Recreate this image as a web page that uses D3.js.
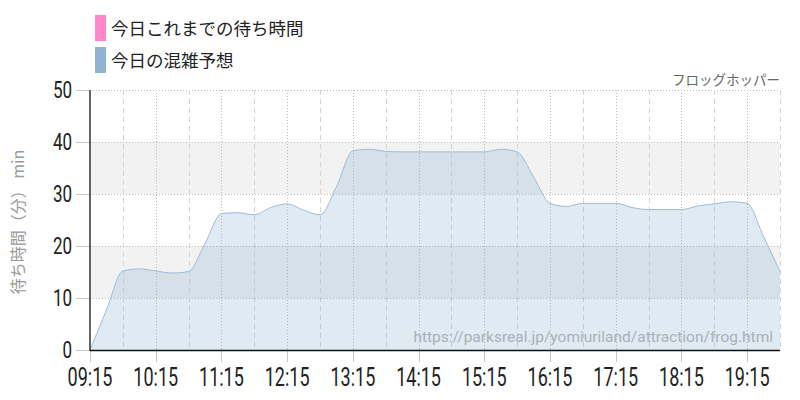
<!DOCTYPE html>
<html><head><meta charset="utf-8">
<script src="https://cdn.jsdelivr.net/npm/d3@7"></script>
<style>
html,body{margin:0;padding:0;background:#fff;}
svg{display:block;}
</style>
</head><body>
<svg id="chart" width="800" height="400"></svg>
<script>
const times = ["09:15","09:30","09:45","10:00","10:15","10:30","10:45","11:00","11:15","11:30","11:45","12:00","12:15","12:30","12:45","13:00","13:15","13:30","13:45","14:00","14:15","14:30","14:45","15:00","15:15","15:30","15:45","16:00","16:15","16:30","16:45","17:00","17:15","17:30","17:45","18:00","18:15","18:30","18:45","19:00","19:15","19:30","19:45"];
const forecast = [0,7.7,15.2,15.6,15.2,14.8,15.1,20.5,26.2,26.4,26.0,27.4,28.1,26.9,26.0,31.4,38.3,38.6,38.2,38.1,38.1,38.1,38.1,38.1,38.1,38.6,38.1,33.3,28.2,27.6,28.2,28.2,28.2,27.4,27.0,27.0,27.0,27.7,28.1,28.5,28.2,21.8,15.1];
const xTickLabels = ["09:15","10:15","11:15","12:15","13:15","14:15","15:15","16:15","17:15","18:15","19:15"];
const halfHourLines = ["09:45","10:45","11:45","12:45","13:45","14:45","15:45","16:45","17:45","18:45","19:45"];
const yTicks = [0,10,20,30,40,50];
const legendLabels = ["今日これまでの待ち時間","今日の混雑予想"];
const legendColors = ["#ff88cc","#8fb3d3"];
const attractionName = "フロッグホッパー";
const yAxisTitle = "待ち時間（分） min";
const sourceUrl = "https://parksreal.jp/yomiuriland/attraction/frog.html";

const parse = d3.timeParse("%H:%M");
const svg = d3.select("#chart");
const L = 90, R = 780, T = 90, B = 350;
const x = d3.scaleTime().domain([parse("09:15"), parse("19:45")]).range([L, R]);
const y = d3.scaleLinear().domain([0, 50]).range([B, T]);

// bands
[[10,20],[30,40]].forEach(([a,b]) => {
  svg.append("rect").attr("x", L).attr("width", R - L)
    .attr("y", y(b)).attr("height", y(a) - y(b)).attr("fill", "#f2f2f2");
});

// horizontal grid
svg.append("g").selectAll("line").data(yTicks.filter(d => d > 0)).join("line")
  .attr("x1", L).attr("x2", R).attr("y1", d => y(d) + 0.5).attr("y2", d => y(d) + 0.5)
  .attr("stroke", "#bbb").attr("stroke-dasharray", "1,2");

// vertical grid
svg.append("g").selectAll("line").data(xTickLabels.slice(1)).join("line")
  .attr("x1", d => Math.round(x(parse(d))) + 0.5).attr("x2", d => Math.round(x(parse(d))) + 0.5)
  .attr("y1", T).attr("y2", B).attr("stroke", "#bbb").attr("stroke-dasharray", "1,2");
svg.append("g").selectAll("line").data(halfHourLines).join("line")
  .attr("x1", d => Math.round(x(parse(d))) + 0.5).attr("x2", d => Math.round(x(parse(d))) + 0.5)
  .attr("y1", T).attr("y2", B).attr("stroke", "#d4d4d4").attr("stroke-dasharray", "5,4");

// area
const pts = times.map((t, i) => ({t: parse(t), v: forecast[i]}));
const area = d3.area().x(d => x(d.t)).y0(y(0)).y1(d => y(d.v)).curve(d3.curveMonotoneX);
const line = d3.line().x(d => x(d.t)).y(d => y(d.v)).curve(d3.curveMonotoneX);
svg.append("path").datum(pts).attr("d", area).attr("fill", "rgba(131,171,207,0.25)");
svg.append("path").datum(pts).attr("d", line).attr("fill", "none").attr("stroke", "#9dbcd8").attr("stroke-width", 1);

// watermark
svg.append("text").attr("x", 773).attr("y", 342).attr("text-anchor", "end")
  .attr("font-family", "Roboto, sans-serif").attr("font-size", 15.5).attr("fill", "#aab0b6")
  .text(sourceUrl);

// y axis ticks
const tickFont = "Roboto, sans-serif";
svg.append("g").selectAll("line").data(yTicks).join("line")
  .attr("x1", 76).attr("x2", L).attr("y1", d => y(d) + 0.5).attr("y2", d => y(d) + 0.5)
  .attr("stroke", "#c8c8c8");
svg.append("g").selectAll("text").data(yTicks).join("text")
  .attr("transform", d => `translate(72,${y(d) + 8}) scale(0.74,1)`)
  .attr("text-anchor", "end").attr("font-family", tickFont).attr("font-size", 23).attr("fill", "#222")
  .text(d => d);

// x axis ticks
svg.append("g").selectAll("line").data(xTickLabels).join("line")
  .attr("x1", d => Math.round(x(parse(d))) + 0.5).attr("x2", d => Math.round(x(parse(d))) + 0.5)
  .attr("y1", B).attr("y2", 362).attr("stroke", "#c8c8c8");
svg.append("g").selectAll("text").data(xTickLabels).join("text")
  .attr("transform", d => `translate(${x(parse(d))},386) scale(0.72,1)`)
  .attr("text-anchor", "middle").attr("font-family", tickFont).attr("font-size", 25).attr("fill", "#222")
  .text(d => d);

// axis lines
svg.append("line").attr("x1", L).attr("x2", L).attr("y1", T).attr("y2", B + 1)
  .attr("stroke", "#333").attr("stroke-width", 1.5);
svg.append("line").attr("x1", L).attr("x2", R).attr("y1", B + 0.5).attr("y2", B + 0.5)
  .attr("stroke", "#111").attr("stroke-width", 1.5);

// y title
svg.append("text").attr("transform", "translate(24,222) rotate(-90)")
  .attr("text-anchor", "middle").attr("font-family", "'Noto Sans CJK JP', sans-serif")
  .attr("font-size", 16).attr("fill", "#999").text(yAxisTitle);

// attraction name
svg.append("text").attr("x", 780).attr("y", 85).attr("text-anchor", "end")
  .attr("font-family", "'Noto Sans CJK JP', sans-serif").attr("font-size", 13.5).attr("fill", "#666")
  .text(attractionName);

// legend
const lg = svg.append("g");
legendLabels.forEach((lab, i) => {
  lg.append("rect").attr("x", 95).attr("y", 15 + i * 32).attr("width", 11).attr("height", 26)
    .attr("fill", legendColors[i]);
  lg.append("text").attr("x", 111).attr("y", 35 + i * 32)
    .attr("font-family", "'Noto Sans CJK JP', sans-serif").attr("font-size", 17.5).attr("fill", "#222")
    .text(lab);
});
</script>
</body></html>
